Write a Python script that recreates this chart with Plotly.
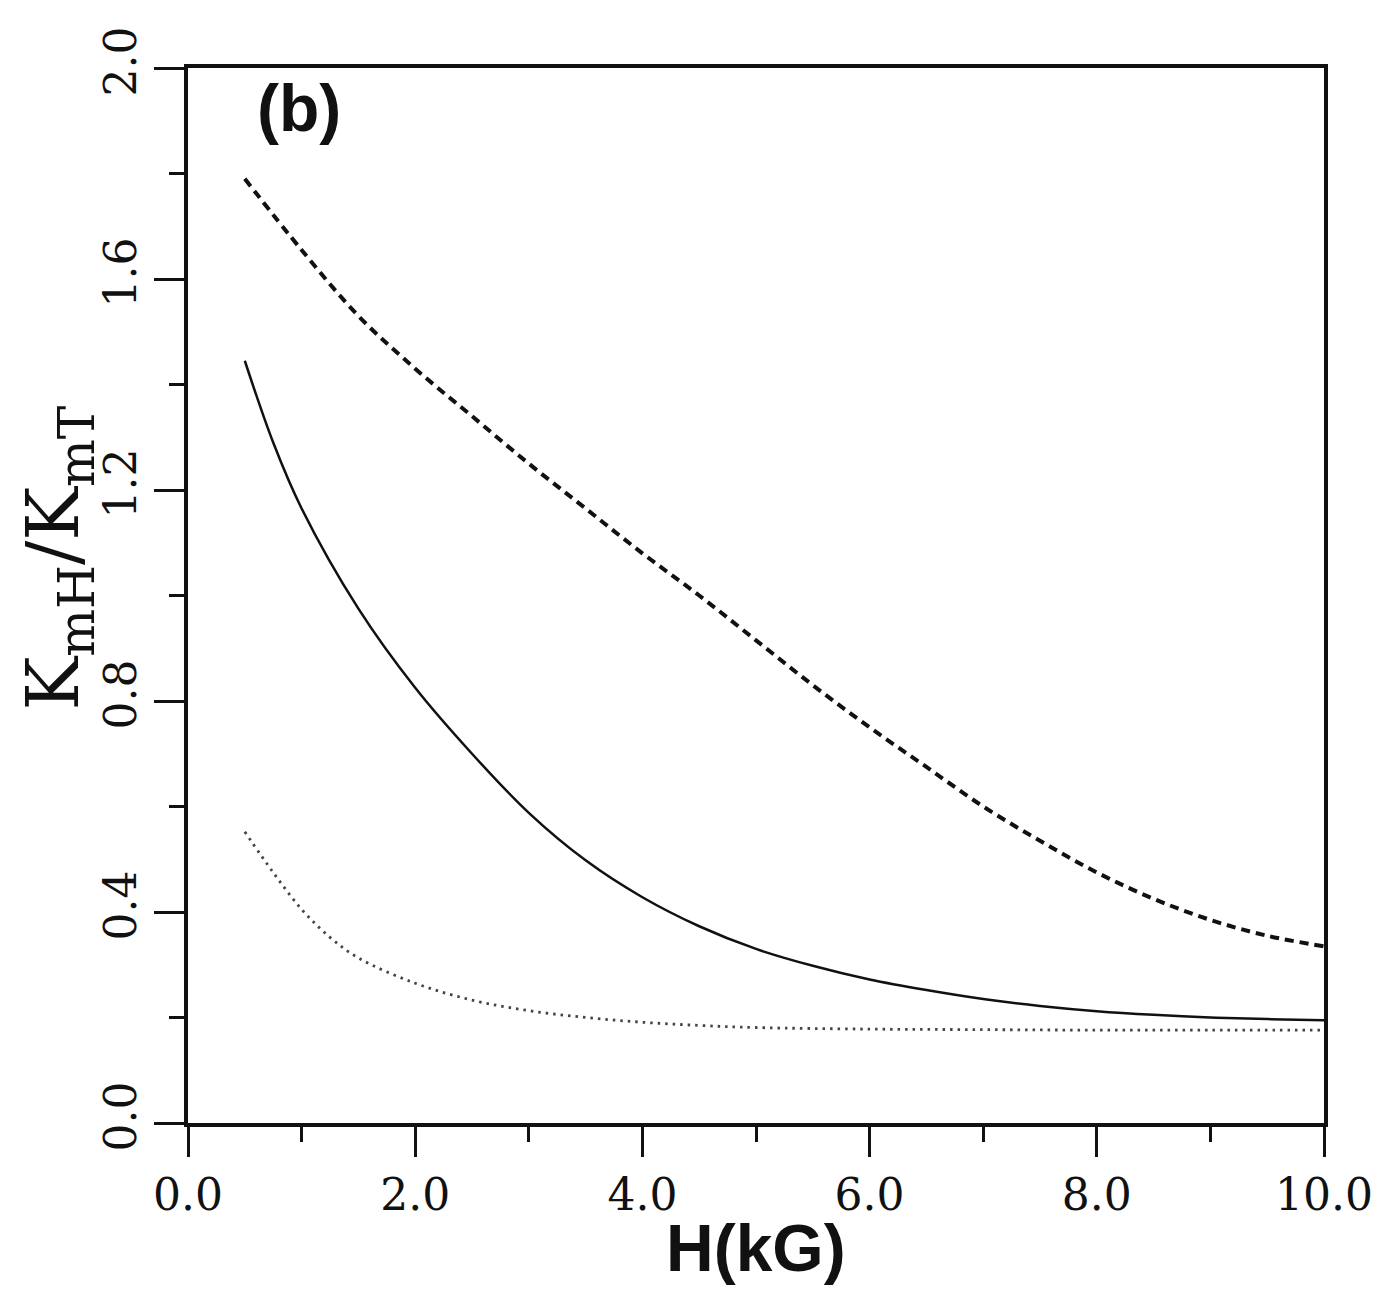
import plotly.graph_objects as go

# field H (kG) and ratio K_mH/K_mT for the three curves
h_dashed = [0.5, 1.0, 1.5, 2.0, 2.5, 3.0, 3.5, 4.0, 4.5, 5.0, 5.5, 6.0, 6.5, 7.0, 7.5, 8.0, 8.5, 9.0, 9.5, 10.0]
k_dashed = [1.79, 1.655, 1.53, 1.43, 1.34, 1.25, 1.165, 1.08, 1.0, 0.915, 0.83, 0.75, 0.675, 0.60, 0.535, 0.475, 0.425, 0.385, 0.355, 0.335]

h_solid = [0.5, 0.75, 1.0, 1.5, 2.0, 2.5, 3.0, 3.5, 4.0, 4.5, 5.0, 5.5, 6.0, 6.5, 7.0, 7.5, 8.0, 8.5, 9.0, 9.5, 10.0]
k_solid = [1.445, 1.29, 1.165, 0.975, 0.825, 0.700, 0.588, 0.498, 0.428, 0.373, 0.330, 0.298, 0.272, 0.252, 0.235, 0.222, 0.212, 0.205, 0.200, 0.197, 0.195]

h_dotted = [0.5, 0.75, 1.0, 1.25, 1.5, 2.0, 2.5, 3.0, 3.5, 4.0, 4.5, 5.0, 6.0, 7.0, 8.0, 9.0, 10.0]
k_dotted = [0.552, 0.475, 0.405, 0.352, 0.313, 0.265, 0.233, 0.213, 0.200, 0.191, 0.185, 0.181, 0.178, 0.177, 0.176, 0.176, 0.176]

x_ticks = [0, 2, 4, 6, 8, 10]
x_tick_text = ["0.0", "2.0", "4.0", "6.0", "8.0", "10.0"]
y_ticks = [0.0, 0.4, 0.8, 1.2, 1.6, 2.0]
y_tick_text = ["0.0", "0.4", "0.8", "1.2", "1.6", "2.0"]

fig = go.Figure()
fig.add_trace(go.Scatter(x=h_dashed, y=k_dashed, mode="lines", line_shape="spline",
                         line=dict(color="#111111", width=4, dash="9px,6px"), showlegend=False))
fig.add_trace(go.Scatter(x=h_solid, y=k_solid, mode="lines", line_shape="spline",
                         line=dict(color="#111111", width=2.5), showlegend=False))
fig.add_trace(go.Scatter(x=h_dotted, y=k_dotted, mode="lines", line_shape="spline",
                         line=dict(color="#444444", width=2.8, dash="2.5px,5px"), showlegend=False))

fig.add_annotation(text="<b>(b)</b>", xref="paper", yref="paper", x=0.098, y=0.962,
                   showarrow=False, xanchor="center", yanchor="middle",
                   font=dict(family="Liberation Sans", size=66, color="#111111"))
# y-axis title
fig.add_annotation(text="K<sub>mH</sub>/K<sub>mT</sub>", xref="paper", yref="paper",
                   x=-0.1144, y=0.535, textangle=-90, showarrow=False,
                   xanchor="center", yanchor="middle",
                   font=dict(family="DejaVu Serif", size=72, color="#111111"))
# x-axis title
fig.add_annotation(text="<b>H(kG)</b>", xref="paper", yref="paper",
                   x=0.5, y=-0.1185, showarrow=False,
                   xanchor="center", yanchor="middle",
                   font=dict(family="Liberation Sans", size=66, color="#111111"))

fig.update_xaxes(range=[0, 10], tickvals=x_ticks, ticktext=x_tick_text,
                 ticks="outside", ticklen=30, tickwidth=3, tickcolor="#111111",
                 minor=dict(dtick=1, ticks="outside", ticklen=15, tickwidth=3, tickcolor="#111111"),
                 showline=True, linewidth=4, linecolor="#111111", mirror=True,
                 showgrid=False, zeroline=False,
                 tickfont=dict(family="DejaVu Serif", size=44, color="#111111"))
fig.update_yaxes(range=[0, 2.0], tickvals=y_ticks, ticktext=y_tick_text, tickangle=-90,
                 ticks="outside", ticklen=30, tickwidth=3, tickcolor="#111111",
                 minor=dict(dtick=0.2, ticks="outside", ticklen=15, tickwidth=3, tickcolor="#111111"),
                 showline=True, linewidth=4, linecolor="#111111", mirror=True,
                 showgrid=False, zeroline=False,
                 tickfont=dict(family="DejaVu Serif", size=44, color="#111111"))

fig.update_layout(width=1391, height=1290, plot_bgcolor="white", paper_bgcolor="white",
                  margin=dict(l=180, r=75, t=60, b=175, autoexpand=False))

fig.write_html("out.html")
